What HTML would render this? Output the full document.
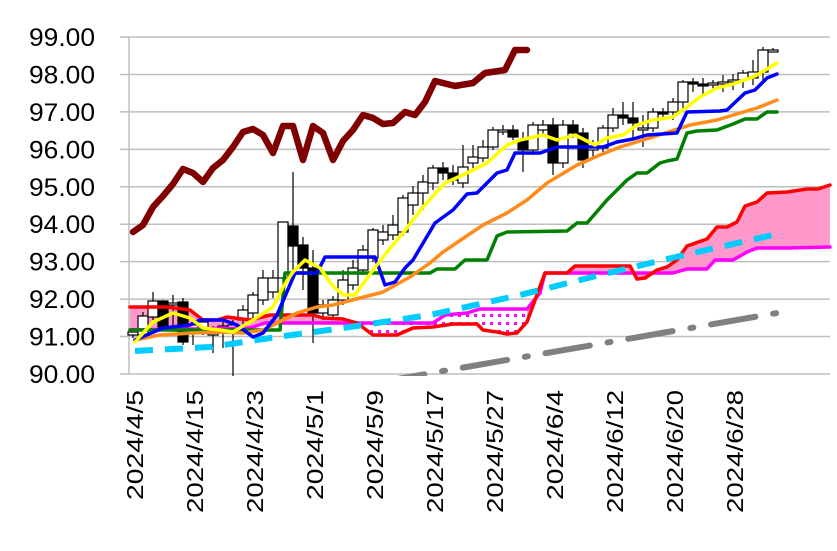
<!DOCTYPE html>
<html><head><meta charset="utf-8"><style>
html,body{margin:0;padding:0;background:#fff;}
svg{display:block;font-family:"Liberation Sans",sans-serif;}
</style></head><body>
<svg id="s" width="837" height="551" viewBox="0 0 837 551" xmlns="http://www.w3.org/2000/svg">
<defs>
<pattern id="dots" width="8" height="8" patternUnits="userSpaceOnUse"><rect width="8" height="8" fill="#fff"/><rect x="2" y="2" width="3" height="3" fill="#ff00ff"/></pattern>
<clipPath id="plot"><rect x="120" y="30" width="717" height="346"/></clipPath>
<clipPath id="cA"><rect x="120" y="0" width="240" height="551"/><rect x="527" y="0" width="310" height="551"/></clipPath>
<clipPath id="cB"><rect x="360" y="0" width="167" height="551"/></clipPath>
</defs>
<g id="grid" stroke="#bfbfbf" stroke-width="1.5"></g>
<g id="labels" font-size="25" fill="#000"></g>
<g id="xl" font-size="23" fill="#000"></g>
<g id="series" clip-path="url(#plot)"></g>
</svg>
<script>
var NS="http://www.w3.org/2000/svg";
function el(p,t,a,txt){var e=document.createElementNS(NS,t);for(var k in a)e.setAttribute(k,a[k]);if(txt!==undefined)e.textContent=txt;p.appendChild(e);return e;}
var grid=document.getElementById('grid'),lab=document.getElementById('labels'),xl=document.getElementById('xl'),S=document.getElementById('series');
for(var i=0;i<=9;i++){var y=37+i*37.44;el(grid,'line',{x1:120,x2:830,y1:y,y2:y});el(lab,'text',{x:29,y:y+9,textLength:66,lengthAdjust:'spacingAndGlyphs'},(99-i).toFixed(2));}
el(grid,'line',{x1:129,x2:129,y1:37,y2:374});
var dl=['2024/4/5','2024/4/15','2024/4/23','2024/5/1','2024/5/9','2024/5/17','2024/5/27','2024/6/4','2024/6/12','2024/6/20','2024/6/28'];
dl.forEach(function(d,i){var x=135+i*60+8;var L=d.length==8?110:123;el(xl,'text',{transform:'translate('+x+',390) rotate(-90)','text-anchor':'end',textLength:L,lengthAdjust:'spacingAndGlyphs'},d);});
function pts(a){return a.map(function(p){return p.join(',')}).join(' ');}
var red=[[130,307],[167,307],[190,310],[203,320],[217,320],[227,317],[250,320],[270,315],[313,315],[323,318],[343,319],[357,323],[373,335],[397,335],[413,328],[433,327],[453,324],[477,324],[483,330],[497,332],[507,334],[517,333],[527,322],[545,273],[567,273],[575,266],[630,266],[637,279],[645,278],[657,270],[667,267],[677,260],[687,246],[707,239],[717,227],[727,227],[737,222],[745,206],[757,202],[767,193],[787,192],[807,189],[818,189],[830,185]];
var mag=[[130,330],[250,328],[265,323],[433,323],[445,315],[467,313],[480,309],[527,309],[540,293],[545,273],[673,273],[687,269],[707,269],[715,260],[733,260],[747,252],[757,248],[787,248],[830,247]];
var poly=red.concat(mag.slice().reverse());
el(S,'polygon',{points:pts(poly),fill:'#ff99cc','clip-path':'url(#cA)'});
el(S,'polygon',{points:pts(poly),fill:'url(#dots)','clip-path':'url(#cB)'});
el(S,'polyline',{points:'380,382 777,313',fill:'none',stroke:'#808080','stroke-width':6,'stroke-dasharray':'45,18,3,18','stroke-linecap':'round'});
var C=[[133,335,332,328,338],[143,335,316,312,338],[153,317,301,292,320],[163,301,327,300,330],[173,305,303,295,327],[183,302,342,298,345],[193,330,325,322,345],[203,328,322,318,335],[213,335,330,326,353],[223,330,326,322,348],[233,330,325,320,376],[243,320,310,305,330],[253,313,295,292,318],[263,300,278,270,305],[273,292,278,270,298],[283,278,222,222,282],[293,226,246,172,280],[303,245,268,237,290],[313,268,313,250,343],[323,313,305,300,320],[333,315,300,296,320],[343,300,280,270,305],[353,285,268,260,290],[363,270,250,245,275],[373,258,230,228,262],[383,240,232,225,245],[393,235,225,215,240],[403,232,198,195,236],[413,205,193,186,215],[423,193,182,175,210],[433,183,168,165,190],[443,168,173,162,180],[453,173,180,165,185],[463,183,167,145,188],[473,163,157,145,170],[483,158,147,140,162],[493,147,130,127,150],[503,130,130,125,135],[513,130,137,125,140],[523,140,150,132,172],[533,150,125,122,155],[543,130,125,120,135],[553,125,163,118,175],[563,163,125,120,168],[573,125,133,120,138],[583,133,160,128,168],[593,150,147,140,158],[603,148,128,125,152],[613,128,115,108,132],[623,115,118,102,125],[633,118,123,102,140],[643,128,128,115,147],[653,128,112,108,132],[663,112,114,108,120],[673,112,102,98,120],[683,102,82,80,110],[693,82,83,78,92],[703,84,86,78,95],[713,85,83,80,92],[723,83,82,75,92],[733,82,80,74,90],[743,80,73,70,88],[753,78,72,60,85],[763,72,50,47,80],[773,50,50,48,52]];
C.forEach(function(c){var x=c[0],o=c[1],cl=c[2];el(S,'line',{x1:x,x2:x,y1:c[3],y2:c[4],stroke:'#000','stroke-width':1.2});var t=Math.min(o,cl),h=Math.max(Math.abs(o-cl),2);el(S,'rect',{x:x-5,y:t,width:10,height:h,fill:cl>o?'#000':'#fff',stroke:'#000','stroke-width':1.2});});
function line(a,col,w,extra){var at={points:pts(a),fill:'none',stroke:col,'stroke-width':w,'stroke-linejoin':'round','stroke-linecap':'round'};for(var k in extra)at[k]=extra[k];el(S,'polyline',at);}
line(mag,'#ff00ff',3.5);
line(red,'#ff0000',3.5);
line([[135,351],[210,347],[277,337],[343,328],[430,315],[520,295],[600,275],[680,256],[777,234]],'#00ccff',6,{'stroke-dasharray':'18,12','stroke-linecap':'butt'});
line([[130,330],[280,330],[285,273],[430,273],[437,269],[455,269],[465,260],[487,260],[497,236],[507,232],[567,231],[577,223],[587,223],[607,200],[627,180],[637,173],[647,173],[660,163],[667,161],[677,159],[687,133],[697,131],[717,130],[733,124],[745,119],[757,119],[767,112],[777,112]],'#008000',3.5);
line([[135,340],[160,335],[193,333],[220,332],[243,333],[263,330],[277,323],[297,313],[317,307],[333,305],[360,298],[383,292],[410,277],[430,263],[443,252],[483,225],[507,213],[527,200],[547,183],[577,165],[600,155],[620,147],[653,137],[690,125],[717,120],[740,113],[757,108],[777,100]],'#ff8c1a',3.5);
line([[135,340],[163,328],[190,325],[200,320],[223,320],[237,325],[253,337],[263,333],[277,315],[295,273],[317,273],[325,257],[375,257],[385,285],[395,282],[405,268],[413,260],[435,223],[453,210],[467,194],[477,193],[497,173],[507,170],[515,153],[540,153],[557,147],[603,147],[617,142],[633,139],[647,135],[677,133],[687,112],[720,111],[727,110],[745,93],[755,90],[767,78],[777,74]],'#0000ff',3.5);
line([[135,342],[153,322],[173,313],[190,318],[203,328],[220,330],[233,332],[253,320],[273,307],[283,287],[293,272],[305,260],[320,268],[332,285],[343,295],[355,295],[373,270],[387,252],[403,233],[423,207],[445,183],[467,173],[487,163],[507,145],[520,140],[543,135],[557,140],[575,135],[595,145],[607,138],[623,135],[637,125],[653,120],[673,117],[687,107],[700,97],[717,88],[733,84],[753,77],[767,69],[777,63]],'#ffff00',3.5);
line([[133,232],[143,225],[153,207],[163,196],[173,184],[183,169],[193,173],[203,182],[213,168],[223,160],[233,147],[243,132],[253,129],[263,135],[273,153],[283,126],[293,126],[303,160],[313,126],[323,133],[333,160],[343,141],[353,130],[363,115],[373,118],[383,124],[393,123],[405,112],[415,115],[425,102],[435,81],[455,86],[473,83],[485,73],[505,70],[515,50],[527,50]],'#800000',6.5);
</script>
</body></html>
